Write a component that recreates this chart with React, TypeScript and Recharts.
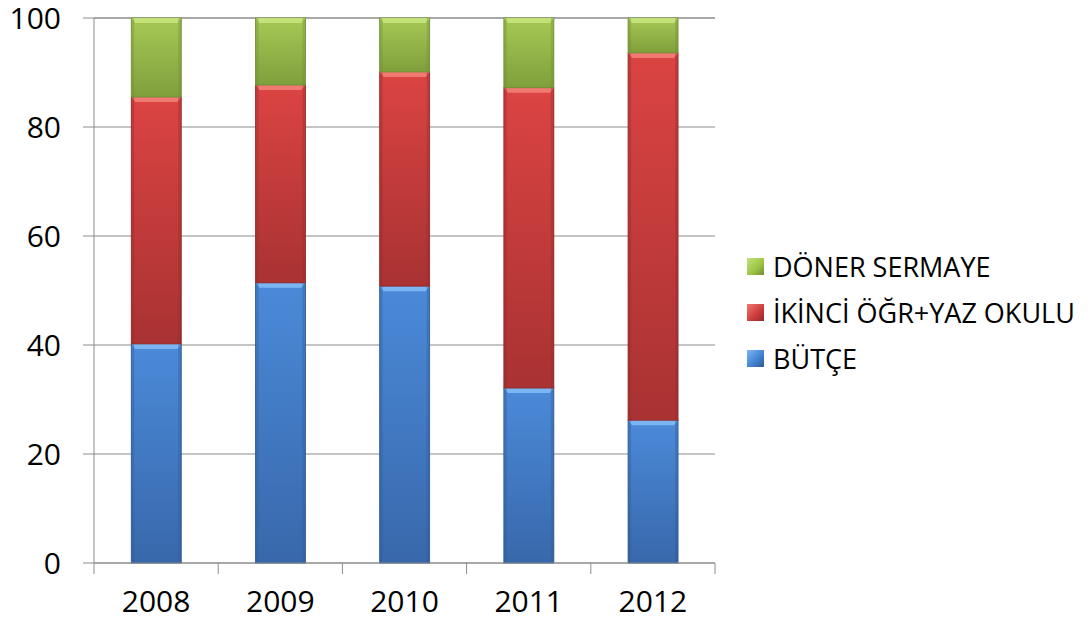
import { BarChart, Bar, XAxis, YAxis, CartesianGrid } from 'recharts'

const years = ['2008', '2009', '2010', '2011', '2012']
const butce = [40.2, 51.4, 50.8, 32.1, 26.2]
const ikinci = [45.3, 36.3, 39.3, 55.1, 67.4]
const doner = [14.5, 12.3, 9.9, 12.8, 6.4]
const yTicks = [0, 20, 40, 60, 80, 100]

const data = years.map((y, i) => ({
  year: y,
  idx: i + 0.5,
  butce: butce[i],
  ikinci: ikinci[i],
  doner: doner[i],
}))

const FONT = '"Open Sans", sans-serif'

const SERIES = [
  { key: 'doner', name: 'DÖNER SERMAYE', id: 'g', light: '#c4e27a', top: '#a6c955', bottom: '#7f9f3c', edge: '#6f8c33', swatch: '#9bc444' },
  { key: 'ikinci', name: 'İKİNCİ ÖĞR+YAZ OKULU', id: 'r', light: '#f07a72', top: '#db4443', bottom: '#a93232', edge: '#8f2a2a', swatch: '#cc3a3a' },
  { key: 'butce', name: 'BÜTÇE', id: 'b', light: '#7cb6f2', top: '#4b8ad9', bottom: '#3868ab', edge: '#2f5990', swatch: '#3f7fcf' },
]

function makeShape(id: string, light: string, edge: string) {
  return (props: any) => {
    const { x, y, width, height } = props
    if (!height || height <= 0) return <g />
    const b = Math.min(5, height / 3)
    return (
      <g>
        <rect x={x} y={y} width={width} height={height} fill={`url(#grad-${id})`} stroke={edge} strokeWidth={0.8} />
        <polygon
          points={`${x},${y} ${x + width},${y} ${x + width - 4},${y + b} ${x + 4},${y + b}`}
          fill={light}
        />
        <rect x={x} y={y} width={3} height={height} fill={edge} opacity={0.35} />
        <rect x={x + width - 3} y={y} width={3} height={height} fill={edge} opacity={0.35} />
      </g>
    )
  }
}

function LegendBox() {
  return (
    <div style={{ position: 'absolute', left: 747, top: 243, fontFamily: FONT, fontSize: 27, color: '#000', lineHeight: 1 }}>
      {SERIES.map((s) => (
        <div key={s.key} style={{ display: 'flex', alignItems: 'center', height: 46 }}>
          <span
            style={{
              display: 'inline-block',
              width: 17,
              height: 17,
              marginRight: 9,
              background: `linear-gradient(135deg, ${s.light}, ${s.swatch} 60%, ${s.edge})`,
            }}
          />
          <span>{s.name}</span>
        </div>
      ))}
    </div>
  )
}

export default function App() {
  return (
    <div style={{ position: 'absolute', left: 0, top: 0, width: 1091, height: 630, background: '#fff' }}>
      <BarChart
        width={1091}
        height={630}
        data={data}
        margin={{ top: 18, right: 376, left: 0, bottom: 0 }}
        barCategoryGap="30%"
      >
        <defs>
          {SERIES.map((s) => (
            <linearGradient key={s.id} id={`grad-${s.id}`} x1="0" y1="0" x2="0" y2="1">
              <stop offset="0%" stopColor={s.top} />
              <stop offset="100%" stopColor={s.bottom} />
            </linearGradient>
          ))}
        </defs>
        <CartesianGrid vertical={false} stroke="#8c8c8c" strokeWidth={1.2} />
        <XAxis
          xAxisId="a0"
          type="number"
          dataKey="idx"
          domain={[0, 5]}
          ticks={[0, 1, 2, 3, 4, 5]}
          tickFormatter={() => ''}
          stroke="#8c8c8c"
          tickSize={11}
          height={12}
        />
        <XAxis
          xAxisId="b1"
          dataKey="year"
          axisLine={false}
          tickLine={false}
          interval={0}
          tickSize={0}
          tickMargin={16}
          height={55}
          tick={{ fill: '#000', fontSize: 30, fontFamily: FONT }}
        />
        <YAxis
          domain={[0, 100]}
          ticks={yTicks}
          width={94}
          stroke="#8c8c8c"
          tickSize={11}
          tickMargin={22}
          tick={{ fill: '#000', fontSize: 30, fontFamily: FONT }}
        />
        {[...SERIES].reverse().map((s) => (
          <Bar
            key={s.key}
            xAxisId="b1"
            dataKey={s.key}
            name={s.name}
            stackId="a"
            fill={s.swatch}
            shape={makeShape(s.id, s.light, s.edge)}
            isAnimationActive={false}
          />
        ))}
      </BarChart>
      <LegendBox />
    </div>
  )
}
